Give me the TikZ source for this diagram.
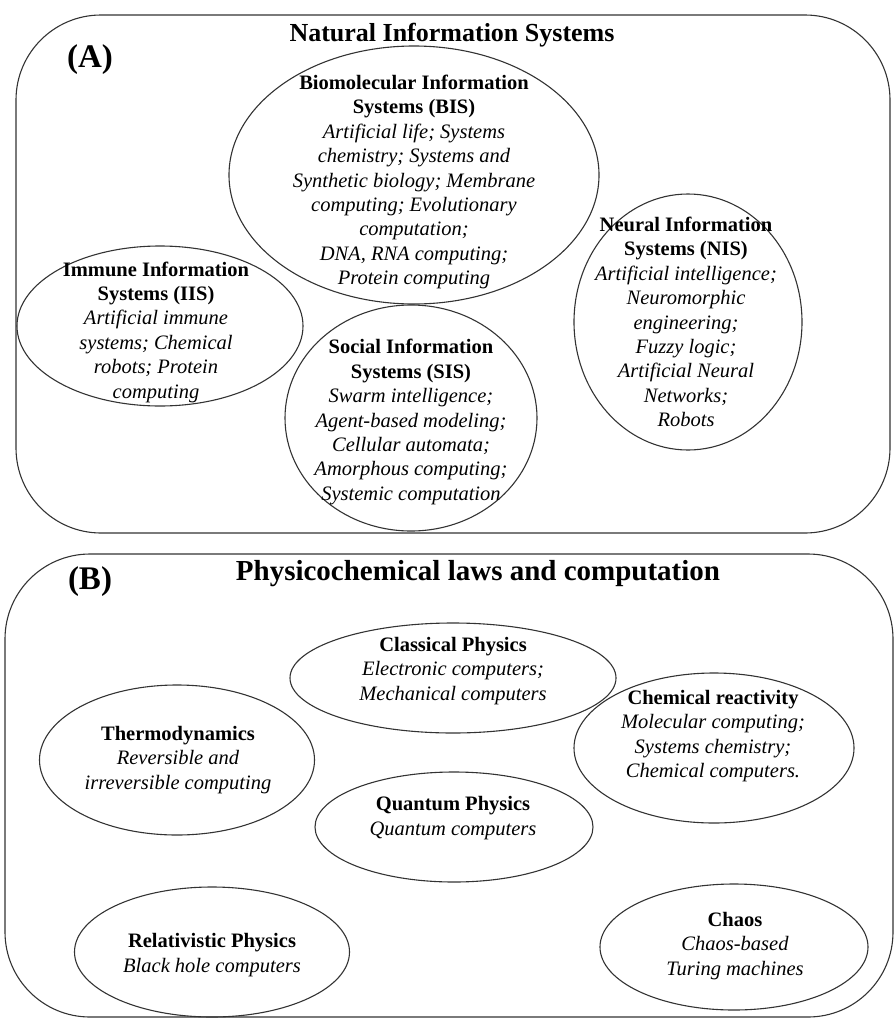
\documentclass[tikz,border=0pt]{standalone}
\usepackage{fontspec}
\setmainfont{Liberation Serif}
\usetikzlibrary{shapes.geometric}
\begin{document}
\begin{tikzpicture}[x=1pt,y=-1pt,
  frame/.style={draw=black!80, line width=1.1pt, rounded corners=85pt},
  ell/.style={ellipse, draw=black!80, line width=1.1pt, inner sep=0pt},
  txt/.style={align=center, inner sep=0pt, font=\fontsize{20.5}{24.4}\selectfont},
  panel/.style={font=\fontsize{33}{36}\selectfont\bfseries, inner sep=0pt},
  ttl/.style={font=\fontsize{26}{30}\selectfont\bfseries, inner sep=0pt}
]
\useasboundingbox (0,0) rectangle (895,1020);
% Panel A
\draw[frame] (16,15) rectangle (890,533);
\node[panel] (labA) at (90,60) {(A)};
\node[ttl] (titA) at (452,35) {Natural Information Systems};

\node[ell, minimum width=370pt, minimum height=258pt] (bis) at (414,175) {};
\node[txt] (bist) at (414,182) {\textbf{Biomolecular Information}\\\textbf{Systems (BIS)}\\\textit{Artificial life; Systems}\\\textit{chemistry; Systems and}\\\textit{Synthetic biology; Membrane}\\\textit{computing; Evolutionary}\\\textit{computation;}\\\textit{DNA, RNA computing;}\\\textit{Protein computing}};

\node[ell, minimum width=286pt, minimum height=160pt] (iis) at (160,326) {};
\node[txt] (iist) at (156,332) {\textbf{Immune Information}\\\textbf{Systems (IIS)}\\\textit{Artificial immune}\\\textit{systems; Chemical}\\\textit{robots; Protein}\\\textit{computing}};

\node[ell, minimum width=252pt, minimum height=226pt] (sis) at (411,418) {};
\node[txt] (sist) at (411,422) {\textbf{Social Information}\\\textbf{Systems (SIS)}\\\textit{Swarm intelligence;}\\\textit{Agent-based modeling;}\\\textit{Cellular automata;}\\\textit{Amorphous computing;}\\\textit{Systemic computation}};

\node[ell, minimum width=228pt, minimum height=256pt] (nis) at (688,322) {};
\node[txt] (nist) at (686,322) {\textbf{Neural Information}\\\textbf{Systems (NIS)}\\\textit{Artificial intelligence;}\\\textit{Neuromorphic}\\\textit{engineering;}\\\textit{Fuzzy logic;}\\\textit{Artificial Neural}\\\textit{Networks;}\\\textit{Robots}};

% Panel B
\draw[frame] (5,554) rectangle (893,1017);
\node[panel] (labB) at (90,582) {(B)};
\node[ttl, font=\fontsize{29}{33}\selectfont\bfseries] (titB) at (478,574) {Physicochemical laws and computation};

\node[ell, minimum width=326pt, minimum height=110pt] (cla) at (453,678) {};
\node[txt] (clat) at (453,671) {\textbf{Classical Physics}\\\textit{Electronic computers;}\\\textit{Mechanical computers}};

\node[ell, minimum width=275pt, minimum height=150pt] (thr) at (177,760) {};
\node[txt] (thrt) at (178,760) {\textbf{Thermodynamics}\\\textit{Reversible and}\\\textit{irreversible computing}};

\node[ell, minimum width=280pt, minimum height=150pt] (che) at (714,748) {};
\node[txt] (chet) at (713,736) {\textbf{Chemical reactivity}\\\textit{Molecular computing;}\\\textit{Systems chemistry;}\\\textit{Chemical computers.}};

\node[ell, minimum width=278pt, minimum height=110pt] (qua) at (454,827) {};
\node[txt] (quat) at (453,818) {\textbf{Quantum Physics}\\\textit{Quantum computers}};

\node[ell, minimum width=275pt, minimum height=130pt] (rel) at (212,952) {};
\node[txt] (relt) at (212,955) {\textbf{Relativistic Physics}\\\textit{Black hole computers}};

\node[ell, minimum width=268pt, minimum height=126pt] (cha) at (734,947) {};
\node[txt] (chat) at (735,946) {\textbf{Chaos}\\\textit{Chaos-based}\\\textit{Turing machines}};
\end{tikzpicture}
\end{document}
